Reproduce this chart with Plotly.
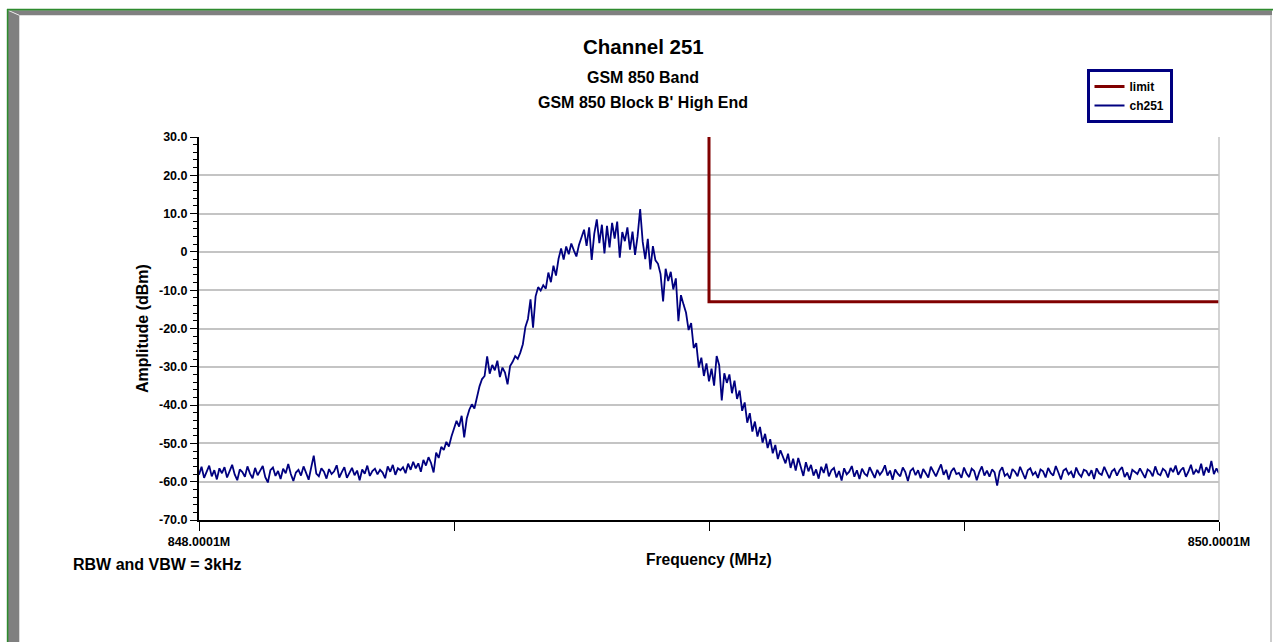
import plotly.graph_objects as go

# ---- sweep data ------------------------------------------------------------
f_start = 848.0001
f_stop = 850.0001
n_points = 401
freq_mhz = [f_start + i * (f_stop - f_start) / (n_points - 1) for i in range(n_points)]

# Measured trace, channel 251 (dBm), one value per sweep point
amp_dbm = [
    -58.2, -56.1, -59.0, -57.3, -55.8, -58.6, -57.0, -59.4, -56.5, -57.8,
    -56.2, -58.9, -57.4, -55.6, -58.1, -59.6, -56.8, -57.5, -58.7, -56.0,
    -57.9, -59.1, -56.4, -58.3, -57.1, -55.9, -58.8, -60.2, -57.0, -56.3,
    -58.5, -57.2, -59.3, -56.6, -57.8, -55.4, -58.0, -59.8, -57.6, -56.9,
    -58.4, -56.0, -57.7, -59.5, -56.3, -53.2, -57.9, -58.6, -56.5, -57.4,
    -59.2, -56.7, -58.0, -57.3, -55.7, -58.9, -57.5, -56.2, -59.0, -57.8,
    -56.4, -58.3, -57.1, -59.6, -56.8, -57.9, -55.8, -58.5, -57.2, -56.6,
    -58.1, -56.9, -57.6, -59.1, -56.0, -57.4, -55.6, -58.2, -56.5, -57.0,
    -56.2, -57.8, -55.3, -56.9, -54.8, -56.5, -55.2, -57.4, -54.3, -55.8,
    -53.6, -55.1, -57.6, -52.4, -53.8, -50.9, -51.7, -49.6, -50.8, -48.2,
    -46.3, -44.1, -45.6, -42.8, -48.4, -43.5, -41.2, -39.8, -40.9, -37.6,
    -35.1, -33.2, -32.4, -27.3, -31.8, -29.5, -30.9, -28.4, -32.7, -30.2,
    -31.5, -34.6, -29.8, -28.7, -27.2, -27.9, -26.3, -24.1, -19.6, -17.5,
    -12.4, -19.8, -11.6, -9.2, -10.1, -8.7, -9.6, -5.4, -7.9, -3.6,
    -6.2, -1.8, 0.9, -2.0, 1.4, -0.6, 2.2, 0.4, -1.2, 1.8,
    3.9, 5.8, 1.6, 6.4, -2.1, 4.7, 8.5, 2.3, 7.1, -0.4,
    6.8, 1.2, 7.6, 3.5, 7.9, -1.5, 5.2, 2.8, 6.4, 0.6,
    5.3, -0.8, 4.1, 11.2, 2.6, -1.9, 3.4, -4.6, 1.5, -2.2,
    -3.1, -5.8, -12.9, -4.4, -7.6, -5.2, -9.8, -6.9, -18.1, -11.3,
    -13.7, -15.9, -20.4, -18.6, -25.1, -23.8, -30.2, -27.6, -32.4, -29.1,
    -33.8, -30.5, -34.9, -27.2, -29.6, -38.8, -31.7, -34.2, -32.0, -36.9,
    -33.6, -38.4, -36.2, -41.5, -39.3, -44.6, -42.1, -46.9, -44.3, -48.2,
    -45.7, -49.8, -47.5, -51.2, -48.9, -52.6, -50.4, -54.1, -51.8, -53.5,
    -55.2, -52.7, -56.4, -54.0, -57.1, -53.8, -56.2, -58.5, -54.9, -57.3,
    -55.6, -58.4, -56.8, -59.2, -56.1, -57.7, -55.3, -58.6, -57.0, -56.4,
    -58.9, -57.2, -59.7, -56.5, -58.1, -57.4, -55.9, -58.7, -57.0, -59.3,
    -56.6, -57.9, -58.5, -56.2, -57.6, -59.0, -56.9, -58.2, -57.3, -55.7,
    -58.4, -57.1, -59.5, -56.8, -57.9, -58.6, -56.3, -57.5, -59.8, -57.2,
    -56.5, -58.3, -57.0, -59.1, -56.7, -57.8, -58.9, -56.1, -57.4, -58.6,
    -57.0, -55.5, -58.2, -56.9, -59.4, -57.3, -56.4, -58.0, -57.7, -59.0,
    -56.3, -57.9, -58.8, -56.6, -57.2, -59.6, -57.5, -56.0, -58.4, -57.1,
    -58.7, -56.8, -57.6, -61.0, -57.3, -56.2, -58.5, -57.9, -59.2, -56.7,
    -57.4, -58.6, -56.1, -57.8, -59.3, -57.0, -56.5, -58.2, -57.5, -59.0,
    -56.8, -57.3, -58.9, -56.4, -57.7, -58.4, -55.9, -57.6, -59.4, -57.1,
    -56.6, -58.1, -57.4, -59.0, -56.3, -57.9, -58.7, -56.9, -57.2, -58.5,
    -57.0, -59.3, -56.5, -57.8, -58.2, -56.1, -57.5, -59.1, -57.3, -56.7,
    -58.4, -57.0, -56.2, -58.8, -57.6, -59.5, -56.9, -57.4, -58.0, -56.5,
    -57.7, -59.0, -56.8, -57.3, -58.6, -56.0, -57.9, -58.3, -56.6, -57.2,
    -58.9, -56.4, -57.5, -55.8, -58.2, -57.0, -56.3, -58.7, -57.4, -55.6,
    -58.1, -56.9, -57.7, -55.3, -58.4, -56.2, -57.6, -54.6, -58.0, -56.5,
    -57.8,
]

# Emission limit mask
limit_freq = [849.0001, 849.0001, 850.0001]
limit_dbm = [30.0, -13.0, -13.0]

# Axis ticks
y_tick_vals = [30, 20, 10, 0, -10, -20, -30, -40, -50, -60, -70]
y_tick_text = ["30.0", "20.0", "10.0", "0", "-10.0", "-20.0", "-30.0",
               "-40.0", "-50.0", "-60.0", "-70.0"]
x_tick_vals = [848.0001, 848.5001, 849.0001, 849.5001, 850.0001]
x_tick_text = ["848.0001M", "", "", "", "850.0001M"]

# ---- page geometry (pixels) ------------------------------------------------
W, H = 1273, 642
PL, PR, PT, PB = 199, 1219, 137, 520   # plot-area edges


def px(x):
    return (x - PL) / (PR - PL)


def py(y):
    return (PB - y) / (PB - PT)


FONT = "Liberation Sans, Arial, Helvetica, sans-serif"
NAVY = "#000080"
MAROON = "#800000"

fig = go.Figure()
fig.add_trace(go.Scatter(
    x=limit_freq, y=limit_dbm, mode="lines", name="limit",
    line=dict(color=MAROON, width=3),
))
fig.add_trace(go.Scatter(
    x=freq_mhz, y=amp_dbm, mode="lines", name="ch251",
    line=dict(color=NAVY, width=1.8),
))

tick_font = dict(family=FONT, size=12.5, color="black", weight="bold")

fig.update_layout(
    width=W, height=H, autosize=False,
    margin=dict(l=PL, r=W - PR, t=PT, b=H - PB, pad=0),
    paper_bgcolor="white", plot_bgcolor="white",
    font=dict(family=FONT, color="black"),
    showlegend=True,
    legend=dict(
        x=px(1129.5), y=py(69), xanchor="center", yanchor="top",
        bgcolor="white", bordercolor=NAVY, borderwidth=3,
        font=dict(family=FONT, size=12, color="black", weight="bold"),
        tracegroupgap=0,
    ),
    xaxis=dict(
        range=[f_start, f_stop], showgrid=False, zeroline=False,
        showline=True, linecolor="black", linewidth=1.6,
        ticks="outside", ticklen=9, tickwidth=1.2, tickcolor="black",
        tickmode="array", tickvals=x_tick_vals, ticktext=x_tick_text,
        tickfont=tick_font, fixedrange=True,
    ),
    xaxis2=dict(
        range=[f_start, f_stop], overlaying="x", anchor="y", side="bottom",
        showgrid=False, zeroline=False, showline=False,
        ticks="inside", ticklen=7, tickwidth=1.2, tickcolor="black",
        tickmode="array", tickvals=x_tick_vals, showticklabels=False,
    ),
    yaxis=dict(
        range=[-70, 30], showgrid=True, gridcolor="#c4c4c4", gridwidth=1.5,
        zeroline=False, showline=True, linecolor="black", linewidth=2,
        ticks="outside", ticklen=7, tickwidth=1.4, tickcolor="black",
        tickmode="array", tickvals=y_tick_vals, ticktext=y_tick_text,
        tickfont=tick_font,
        minor=dict(ticks="outside", ticklen=4, tickwidth=1.4, tickcolor="black",
                   tick0=0, dtick=2, showgrid=False),
    ),
    yaxis2=dict(
        range=[-70, 30], overlaying="y", anchor="x", side="left",
        showgrid=False, zeroline=False, showline=False,
        ticks="inside", ticklen=8, tickwidth=1.4, tickcolor="black",
        tickmode="array", tickvals=y_tick_vals, showticklabels=False,
        minor=dict(ticks="inside", ticklen=4, tickwidth=1.4, tickcolor="black",
                   tick0=0, dtick=2, showgrid=False),
    ),
)

# ---- titles and notes --------------------------------------------------------
texts = [
    ("Channel 251", 643, 47, 20.5, 0),
    ("GSM 850 Band", 643, 77, 16, 0),
    ("GSM 850 Block B' High End", 643, 102, 16, 0),
    ("Frequency (MHz)", 709, 559, 15.6, 0),
    ("Amplitude (dBm)", 142, 329, 16, -90),
]
for txt, x, y, size, ang in texts:
    fig.add_annotation(
        text=txt, x=px(x), y=py(y), xref="paper", yref="paper",
        xanchor="center", yanchor="middle", showarrow=False, textangle=ang,
        font=dict(family=FONT, size=size, color="black", weight="bold"),
    )
fig.add_annotation(
    text="RBW and VBW = 3kHz", x=px(71), y=py(564), xref="paper", yref="paper",
    xanchor="left", yanchor="middle", showarrow=False,
    font=dict(family=FONT, size=16, color="black", weight="bold"),
)

# ---- plot-area right edge and page frame ------------------------------------
shapes = [
    dict(type="line", xref="x domain", yref="y domain", x0=1, x1=1, y0=0, y1=1,
         line=dict(color="#c4c4c4", width=1.5)),
]


def path(points):
    return "M " + " L ".join(f"{px(a):.5f},{py(b):.5f}" for a, b in points) + " Z"


frame_gray = "#808080"
shapes += [
    dict(type="path", xref="paper", yref="paper", layer="above",
         path=path([(8, 10.3), (1272, 10.3), (1272, 15.3), (19.3, 15.3)]),
         fillcolor=frame_gray, line=dict(width=0)),
    dict(type="path", xref="paper", yref="paper", layer="above",
         path=path([(8, 10.3), (19.3, 15.3), (19.3, 642), (8, 642)]),
         fillcolor=frame_gray, line=dict(width=0)),
    dict(type="line", xref="paper", yref="paper",
         x0=px(8.5), y0=py(10.5), x1=px(19.3), y1=py(15.3),
         line=dict(color="#e8e8e8", width=1)),
    dict(type="line", xref="paper", yref="paper",
         x0=px(7), y0=py(9.6), x1=px(1273), y1=py(9.6),
         line=dict(color="#2e8b2e", width=1.6)),
    dict(type="line", xref="paper", yref="paper",
         x0=px(7.6), y0=py(9), x1=px(7.6), y1=py(642),
         line=dict(color="#2e8b2e", width=1.6)),
    dict(type="line", xref="paper", yref="paper",
         x0=px(1271), y0=py(15), x1=px(1271), y1=py(642),
         line=dict(color="#c8c8c8", width=1.8)),
]
fig.update_layout(shapes=shapes)

fig.write_html("out.html", config=dict(displayModeBar=False))
